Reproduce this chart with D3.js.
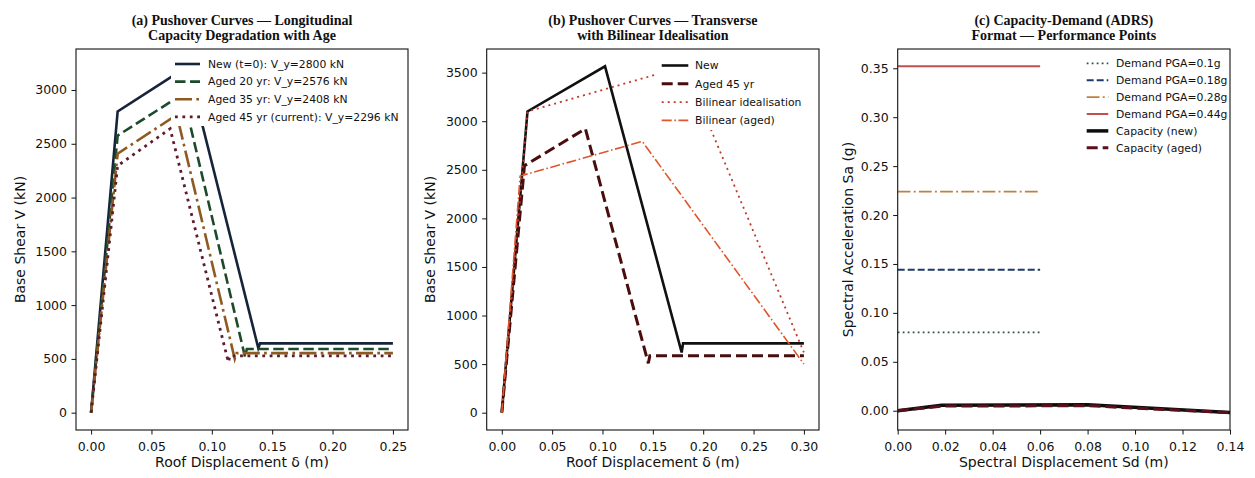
<!DOCTYPE html>
<html><head><meta charset="utf-8">
<script src="https://cdn.jsdelivr.net/npm/d3@7"></script>
<style>body{margin:0;background:#fff}svg{display:block}</style>
</head><body>
<svg id="chart" width="1255" height="478"></svg>
<script>
// ---------------- DATA ----------------
// (a) Longitudinal pushover curves
const aLabels = ["New (t=0): V_y=2800 kN", "Aged 20 yr: V_y=2576 kN", "Aged 35 yr: V_y=2408 kN", "Aged 45 yr (current): V_y=2296 kN"];
const aNewD   = [0, 0.022, 0.080, 0.1385, 0.140, 0.25];
const aNewV   = [0, 2800, 3220, 600, 644, 644];
const a20D    = [0, 0.022, 0.076, 0.1275, 0.129, 0.25];
const a20V    = [0, 2576, 2962, 520, 592, 592];
const a35D    = [0, 0.022, 0.071, 0.119, 0.1205, 0.25];
const a35V    = [0, 2408, 2769, 500, 554, 554];
const a45D    = [0, 0.022, 0.0655, 0.1137, 0.115, 0.25];
const a45V    = [0, 2296, 2640, 470, 528, 528];
const aXTicks = [0, 0.05, 0.10, 0.15, 0.20, 0.25];
const aYTicks = [0, 500, 1000, 1500, 2000, 2500, 3000];

// (b) Transverse pushover curves with bilinear idealisation
const bLabels   = ["New", "Aged 45 yr", "Bilinear idealisation", "Bilinear (aged)"];
const bNewD     = [0, 0.0255, 0.1025, 0.1786, 0.180, 0.30];
const bNewV     = [0, 3100, 3565, 620, 713, 713];
const bAgedD    = [0, 0.0225, 0.083, 0.1455, 0.147, 0.30];
const bAgedV    = [0, 2542, 2923, 508, 585, 585];
const bBiD      = [0, 0.0255, 0.1815, 0.30];
const bBiV      = [0, 3100, 3565, 620];
const bBiAgedD  = [0, 0.0182, 0.1395, 0.30];
const bBiAgedV  = [0, 2436, 2792, 500];
const bXTicks   = [0, 0.05, 0.10, 0.15, 0.20, 0.25, 0.30];
const bYTicks   = [0, 500, 1000, 1500, 2000, 2500, 3000, 3500];

// (c) ADRS capacity-demand
const cLabels   = ["Demand PGA=0.1g", "Demand PGA=0.18g", "Demand PGA=0.28g", "Demand PGA=0.44g", "Capacity (new)", "Capacity (aged)"];
const cPGA      = [0.1, 0.18, 0.28, 0.44];
const cDemandSa = [0.08, 0.144, 0.224, 0.352];
const cDemandSd = [0, 0.06];
const cCapNewSd = [0, 0.0185, 0.080, 0.14];
const cCapNewSa = [0, 0.0057, 0.0060, -0.0017];
const cCapAgedSd = [0, 0.0185, 0.080, 0.14];
const cCapAgedSa = [0, 0.0047, 0.0051, -0.0020];
const cXTicks   = [0, 0.02, 0.04, 0.06, 0.08, 0.10, 0.12, 0.14];
const cYTicks   = [0, 0.05, 0.10, 0.15, 0.20, 0.25, 0.30, 0.35];

// ---------------- HELPERS ----------------
const zip = (xs, ys) => xs.map((x, i) => [x, ys[i]]);
function autoDomain(arrs) {
  const all = arrs.flat();
  const lo = d3.min(all), hi = d3.max(all), m = (hi - lo) * 0.05;
  return [lo - m, hi + m];
}
const svg = d3.select("#chart");
svg.append("rect").attr("width", 1255).attr("height", 478).attr("fill", "#fff");

const TICKFONT = "DejaVu Sans, sans-serif";

function drawPanel(p, idx) {
  const x = d3.scaleLinear().domain(p.xDomain).range([p.left, p.right]);
  const y = d3.scaleLinear().domain(p.yDomain).range([p.bottom, p.top]);
  const g = svg.append("g");
  const clipId = "clip" + idx;
  svg.append("defs").append("clipPath").attr("id", clipId)
    .append("rect").attr("x", p.left).attr("y", p.top)
    .attr("width", p.right - p.left).attr("height", p.bottom - p.top);

  const line = d3.line().x(d => x(d[0])).y(d => y(d[1]));
  const lg = g.append("g").attr("clip-path", `url(#${clipId})`);
  p.series.forEach(s => {
    lg.append("path").datum(s.pts).attr("d", line)
      .attr("fill", "none").attr("stroke", s.color).attr("stroke-width", s.width)
      .attr("stroke-dasharray", s.dash || null).attr("stroke-linejoin", "miter")
      .attr("stroke-linecap", "butt");
  });

  // axes
  const xa = g.append("g").attr("transform", `translate(0,${p.bottom})`)
    .call(d3.axisBottom(x).tickValues(p.xTicks).tickFormat(d3.format(p.xFmt)).tickSize(4.5).tickPadding(8).tickSizeOuter(0));
  const ya = g.append("g").attr("transform", `translate(${p.left},0)`)
    .call(d3.axisLeft(y).tickValues(p.yTicks).tickFormat(d3.format(p.yFmt)).tickSize(4.5).tickPadding(4.5).tickSizeOuter(0));
  [xa, ya].forEach(a => {
    a.select(".domain").remove();
    a.selectAll("text").attr("font-family", TICKFONT).attr("font-size", 12.5).attr("fill", "#111");
    a.selectAll("line").attr("stroke", "#111").attr("stroke-width", 1);
  });
  g.append("rect").attr("x", p.left).attr("y", p.top)
    .attr("width", p.right - p.left).attr("height", p.bottom - p.top)
    .attr("fill", "none").attr("stroke", "#111").attr("stroke-width", 1.1);

  // labels
  const cx = (p.left + p.right) / 2;
  g.append("text").attr("x", cx).attr("y", 467).attr("text-anchor", "middle")
    .attr("font-family", TICKFONT).attr("font-size", 14).attr("fill", "#111").text(p.xLabel);
  g.append("text").attr("transform", `translate(${p.yLabelX},${(p.top + p.bottom) / 2}) rotate(-90)`)
    .attr("text-anchor", "middle").attr("dy", "0.35em")
    .attr("font-family", TICKFONT).attr("font-size", 14).attr("fill", "#111").text(p.yLabel);
  p.title.forEach((t, i) => {
    g.append("text").attr("x", cx).attr("y", 24.5 + i * 15).attr("text-anchor", "middle")
      .attr("font-family", "Liberation Serif, serif").attr("font-weight", "bold")
      .attr("font-size", 14).attr("fill", "#111").text(t);
  });

  // legend
  const L = p.legend;
  g.append("rect").attr("x", L.box[0]).attr("y", L.box[1])
    .attr("width", L.box[2] - L.box[0]).attr("height", L.box[3] - L.box[1])
    .attr("fill", "#fff").attr("stroke", "none");
  p.series.forEach((s, i) => {
    const yy = L.y0 + i * L.dy;
    g.append("line").attr("x1", L.hx0).attr("x2", L.hx1).attr("y1", yy).attr("y2", yy)
      .attr("stroke", s.color).attr("stroke-width", s.width)
      .attr("stroke-dasharray", s.dash || null);
    g.append("text").attr("x", L.tx).attr("y", yy).attr("dy", "0.35em")
      .attr("font-family", TICKFONT).attr("font-size", 10.8).attr("fill", "#111").text(s.label);
  });
}

// ---------------- PANELS ----------------
const panelA = {
  left: 76, right: 408, top: 49, bottom: 430,
  xDomain: autoDomain([aNewD]), yDomain: autoDomain([aNewV, a20V, a35V, a45V]),
  xTicks: aXTicks, yTicks: aYTicks, xFmt: ".2f", yFmt: "d",
  title: ["(a) Pushover Curves \u2014 Longitudinal", "Capacity Degradation with Age"],
  xLabel: "Roof Displacement \u03b4 (m)", yLabel: "Base Shear V (kN)", yLabelX: 20,
  series: [
    {pts: zip(aNewD, aNewV), color: "#16243b", width: 2.6, dash: null, label: aLabels[0]},
    {pts: zip(a20D, a20V), color: "#1d4a2a", width: 2.6, dash: "10.5,4.5", label: aLabels[1]},
    {pts: zip(a35D, a35V), color: "#8f5a22", width: 2.6, dash: "17,4.3,2.7,4.3", label: aLabels[2]},
    {pts: zip(a45D, a45V), color: "#5e1b2c", width: 2.8, dash: "2.8,4.6", label: aLabels[3]}
  ],
  legend: {box: [171, 52, 406, 126], hx0: 175, hx1: 200, tx: 208, y0: 64, dy: 17.6}
};
const panelB = {
  left: 486.7, right: 819, top: 49, bottom: 430,
  xDomain: autoDomain([bNewD]), yDomain: autoDomain([bNewV, bAgedV, bBiV, bBiAgedV]),
  xTicks: bXTicks, yTicks: bYTicks, xFmt: ".2f", yFmt: "d",
  title: ["(b) Pushover Curves \u2014 Transverse", "with Bilinear Idealisation"],
  xLabel: "Roof Displacement \u03b4 (m)", yLabel: "Base Shear V (kN)", yLabelX: 430,
  series: [
    {pts: zip(bNewD, bNewV), color: "#111111", width: 2.6, dash: null, label: bLabels[0]},
    {pts: zip(bAgedD, bAgedV), color: "#4a0d0d", width: 3, dash: "11,5", label: bLabels[1]},
    {pts: zip(bBiD, bBiV), color: "#c0392b", width: 1.8, dash: "2,4", label: bLabels[2]},
    {pts: zip(bBiAgedD, bBiAgedV), color: "#e0552a", width: 1.6, dash: "10,2.6,1.6,2.6", label: bLabels[3]}
  ],
  legend: {box: [657, 53, 815, 130], hx0: 661.7, hx1: 688.3, tx: 695, y0: 65.5, dy: 18.3}
};
const demandStyles = [
  {color: "#2f4f4f", width: 1.8, dash: "1.8,3.2"},
  {color: "#1f3a68", width: 2, dash: "7,3"},
  {color: "#c08040", width: 1.8, dash: "12.8,3.2,2,3.2"},
  {color: "#c0504d", width: 2, dash: null}
];
const panelC = {
  left: 897.7, right: 1230, top: 49, bottom: 430,
  xDomain: [0, 0.14], yDomain: autoDomain([cDemandSa, cCapNewSa, cCapAgedSa]),
  xTicks: cXTicks, yTicks: cYTicks, xFmt: ".2f", yFmt: ".2f",
  title: ["(c) Capacity-Demand (ADRS)", "Format \u2014 Performance Points"],
  xLabel: "Spectral Displacement Sd (m)", yLabel: "Spectral Acceleration Sa (g)", yLabelX: 848,
  series: cPGA.map((pga, i) => ({
      pts: cDemandSd.map(sd => [sd, cDemandSa[i]]),
      color: demandStyles[i].color, width: demandStyles[i].width, dash: demandStyles[i].dash,
      label: cLabels[i]
    })).concat([
    {pts: zip(cCapNewSd, cCapNewSa), color: "#0d0d0d", width: 3.5, dash: null, label: cLabels[4]},
    {pts: zip(cCapAgedSd, cCapAgedSa), color: "#5a0f1a", width: 3, dash: "11,5", label: cLabels[5]}
  ]),
  legend: {box: [1080, 53, 1226, 156], hx0: 1086.7, hx1: 1108.3, tx: 1116, y0: 63.3, dy: 16.9}
};
[panelA, panelB, panelC].forEach(drawPanel);
</script>
</body></html>
